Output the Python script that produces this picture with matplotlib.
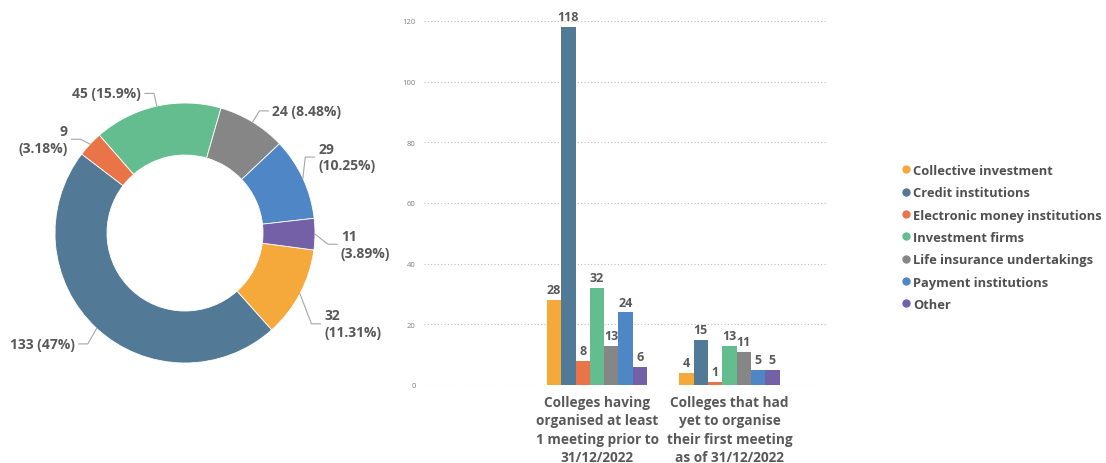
import numpy as np
import matplotlib
matplotlib.use("Agg")
import matplotlib.pyplot as plt
from matplotlib.lines import Line2D

plt.rcParams['font.family'] = ['Open Sans', 'DejaVu Sans']

# data
categories = ['Collective investment', 'Credit institutions', 'Electronic money institutions',
              'Investment firms', 'Life insurance undertakings', 'Payment institutions', 'Other']
colors = ['#F5A93A', '#527A96', '#E87448', '#63BD8F', '#858685', '#4E86C6', '#7460A7']
pie_values = [32, 133, 9, 45, 24, 29, 11]
pie_labels = ['32\n(11.31%)', '133 (47%)', '9\n(3.18%)', '45 (15.9%)', '24 (8.48%)',
              '29\n(10.25%)', '11\n(3.89%)']
groups = ['Colleges having\norganised at least\n1 meeting prior to\n31/12/2022',
          'Colleges that had\nyet to organise\ntheir first meeting\nas of 31/12/2022']
met = [28, 118, 8, 32, 13, 24, 6]
not_met = [4, 15, 1, 13, 11, 5, 5]

# vertical nudge of each pie label's elbow, in px (layout only)
label_dy = [24, 6, 4, 0, 0, -20, 10]
label_r = [1.1, 1.1, 1.1, 1.1, 1.1, 1.02, 1.1]

txt_col = '#595959'
W, H = 1106, 464
fig = plt.figure(figsize=(W / 100, H / 100), dpi=100)

# ---- donut ----
R = 130.0  # radius in px
cx, cy = 185, 234
axw, axh = 370, 350
ax1 = fig.add_axes([0, (H - 410) / H, axw / W, axh / H])
wedges, _ = ax1.pie(pie_values, colors=colors, startangle=-7.5, counterclock=False,
                    radius=1.0, wedgeprops=dict(width=0.4, edgecolor='white', linewidth=0.6))
ax1.set_xlim(-cx / R, (axw - cx) / R)
ax1.set_ylim(-(410 - cy) / R, (cy - 60) / R)
ax1.set_aspect('auto')
ax1.axis('off')

for w, lab, dy, r in zip(wedges, pie_labels, label_dy, label_r):
    ang = np.deg2rad((w.theta1 + w.theta2) / 2)
    x0, y0 = np.cos(ang), np.sin(ang)
    x1, y1 = r * x0, r * y0 - dy / R
    side = 1 if x0 > 0 else -1
    x2 = x1 + side * 0.07
    ax1.plot([x0, x1, x2], [y0, y1, y1], color='#A6A6A6', lw=0.8, clip_on=False)
    ax1.text(x2 + side * 0.03, y1, lab, ha='left' if side > 0 else 'right', va='center',
             fontsize=10, fontweight='bold', color=txt_col,
             multialignment='left' if side > 0 else 'right', linespacing=1.25)

# ---- bars ----
ax2 = fig.add_axes([424 / W, 78 / H, 404 / W, (386 - 22) / H])
n = len(categories)
bw = 0.108
xg = np.arange(len(groups))
for i, c in enumerate(categories):
    vals = [met[i], not_met[i]]
    xs = xg + (i - (n - 1) / 2) * bw
    ax2.bar(xs, vals, width=bw, color=colors[i], label=c)
    for x, v in zip(xs, vals):
        ax2.text(x, v + 1.2, str(v), ha='center', va='bottom', fontsize=9,
                 fontweight='bold', color=txt_col)

ax2.set_xlim((424 - 597) / 132.5, (828 - 597) / 132.5)
ax2.set_ylim(0, 120)
ax2.set_yticks(range(0, 121, 20))
ax2.set_xticks(xg)
ax2.set_xticklabels(groups, fontsize=9.8, fontweight='bold', color=txt_col, linespacing=1.4)
ax2.tick_params(axis='x', length=0, pad=7)
ax2.tick_params(axis='y', length=0, labelsize=5.5, labelcolor='#7F7F7F', pad=6)
ax2.grid(axis='y', linestyle=(0, (1, 2)), color='#BFBFBF', linewidth=0.8)
ax2.set_axisbelow(True)
for s in ax2.spines.values():
    s.set_visible(False)

handles = [Line2D([], [], marker='o', linestyle='', markersize=5, color=c) for c in colors]
fig.legend(handles, categories, loc='upper left', bbox_to_anchor=(903 / W, 1 - 165 / H),
           frameon=False, handlelength=0.5, handletextpad=0.3,
           labelspacing=0.72, borderpad=0, borderaxespad=0,
           prop=dict(weight='bold', size=9.3), labelcolor='#505050')

fig.savefig('out.png', dpi=100)
